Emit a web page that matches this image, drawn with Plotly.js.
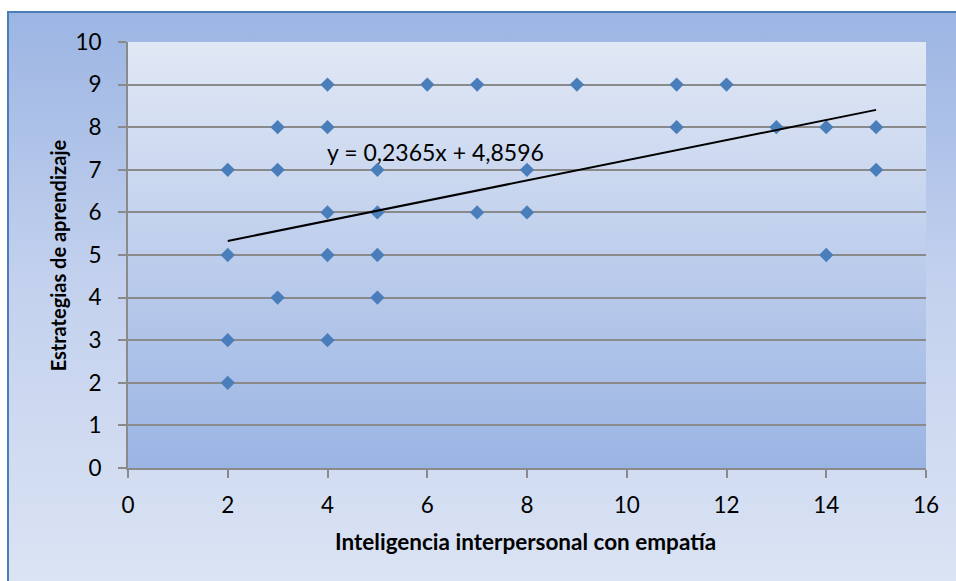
<!DOCTYPE html>
<html>
<head>
<meta charset="utf-8">
<script src="https://cdn.plot.ly/plotly-3.0.1.min.js"></script>
<style>
  html, body { margin: 0; padding: 0; background: #ffffff; overflow: hidden; }
  #bg {
    position: absolute; left: 7px; top: 11px; width: 980px; height: 600px;
    border: 2px solid #4a7ebb; box-sizing: border-box;
    background: linear-gradient(to bottom, #9cb5e3 0%, #c3d1ee 45%, #dde5f4 100%);
  }
  #chart { position: absolute; left: 0; top: 0; width: 956px; height: 581px; }
</style>
</head>
<body>
<div id="bg"></div>
<div id="chart"></div>
<script>
// Data
const empatia     = [2, 2, 2, 2, 3, 3, 3, 4, 4, 4, 4, 4, 5, 5, 5, 5, 6, 7, 7, 8, 8, 9, 11, 11, 12, 13, 14, 14, 15, 15];
const estrategias = [7, 5, 3, 2, 8, 7, 4, 9, 8, 6, 5, 3, 7, 6, 5, 4, 9, 9, 6, 7, 6, 9, 9, 8, 9, 8, 8, 5, 8, 7];
const trendX = [2, 15];
const trendY = [5.33, 8.407];
const equationText = "y = 0,2365x + 4,8596";
const xTitle = "Inteligencia interpersonal con empatía";
const yTitle = "Estrategias de aprendizaje";

const svg = "<svg xmlns='http://www.w3.org/2000/svg' width='100' height='100' preserveAspectRatio='none'>" +
  "<defs><linearGradient id='g' x1='0' y1='0' x2='0' y2='1'>" +
  "<stop offset='0' stop-color='#e1e8f5'/><stop offset='1' stop-color='#9ab4e3'/>" +
  "</linearGradient></defs><rect width='100' height='100' fill='url(#g)'/></svg>";
const bgSrc = "data:image/svg+xml;charset=utf-8," + encodeURIComponent(svg);

const font = "Lato, 'Open Sans', sans-serif";
const gray = "#8a8a8a";

const traces = [
  {
    x: empatia, y: estrategias, type: "scatter", mode: "markers",
    marker: { symbol: "diamond", size: 11, color: "#4a7ebb", line: { width: 0 } },
    hoverinfo: "x+y", showlegend: false
  },
  {
    x: trendX, y: trendY, type: "scatter", mode: "lines",
    line: { color: "#000000", width: 2 }, hoverinfo: "skip", showlegend: false
  }
];

const layout = {
  width: 956, height: 581,
  margin: { l: 128, r: 30, t: 42, b: 113, pad: 0 },
  paper_bgcolor: "rgba(0,0,0,0)",
  plot_bgcolor: "rgba(0,0,0,0)",
  font: { family: font, color: "#000000", size: 22 },
  images: [{
    source: bgSrc, xref: "paper", yref: "paper", x: 0, y: 1, sizex: 1, sizey: 1,
    xanchor: "left", yanchor: "top", sizing: "stretch", layer: "below"
  }],
  xaxis: {
    range: [0, 16], dtick: 2, tick0: 0, showgrid: false, zeroline: false,
    showline: true, linecolor: gray, linewidth: 2,
    ticks: "outside", ticklen: 8, tickwidth: 2, tickcolor: gray,
    tickfont: { family: font, size: 22.5, color: "#000000" },
    ticklabelstandoff: 8, fixedrange: true
  },
  yaxis: {
    range: [0, 10], dtick: 1, tick0: 0, showgrid: true, gridcolor: gray, gridwidth: 2,
    zeroline: false, showline: true, linecolor: gray, linewidth: 2,
    ticks: "outside", ticklen: 8, tickwidth: 2, tickcolor: gray,
    tickfont: { family: font, size: 22.5, color: "#000000" },
    ticklabelstandoff: 12, fixedrange: true
  },
  annotations: [
    {
      text: equationText, xref: "x", yref: "y", x: 6.16, y: 7.42,
      showarrow: false, xanchor: "center", yanchor: "middle",
      font: { family: font, size: 23, color: "#000000" }
    },
    {
      text: "<b>" + xTitle + "</b>", xref: "paper", yref: "paper", x: 0.4975, y: -0.173,
      showarrow: false, xanchor: "center", yanchor: "middle",
      font: { family: font, size: 22.5, color: "#000000" }
    },
    {
      text: "<b>" + yTitle + "</b>", xref: "paper", yref: "paper", x: -0.0873, y: 0.5,
      showarrow: false, xanchor: "center", yanchor: "middle", textangle: -90,
      font: { family: font, size: 20, color: "#000000" }
    }
  ]
};

Plotly.newPlot("chart", traces, layout, { displayModeBar: false, staticPlot: true });
</script>
</body>
</html>
